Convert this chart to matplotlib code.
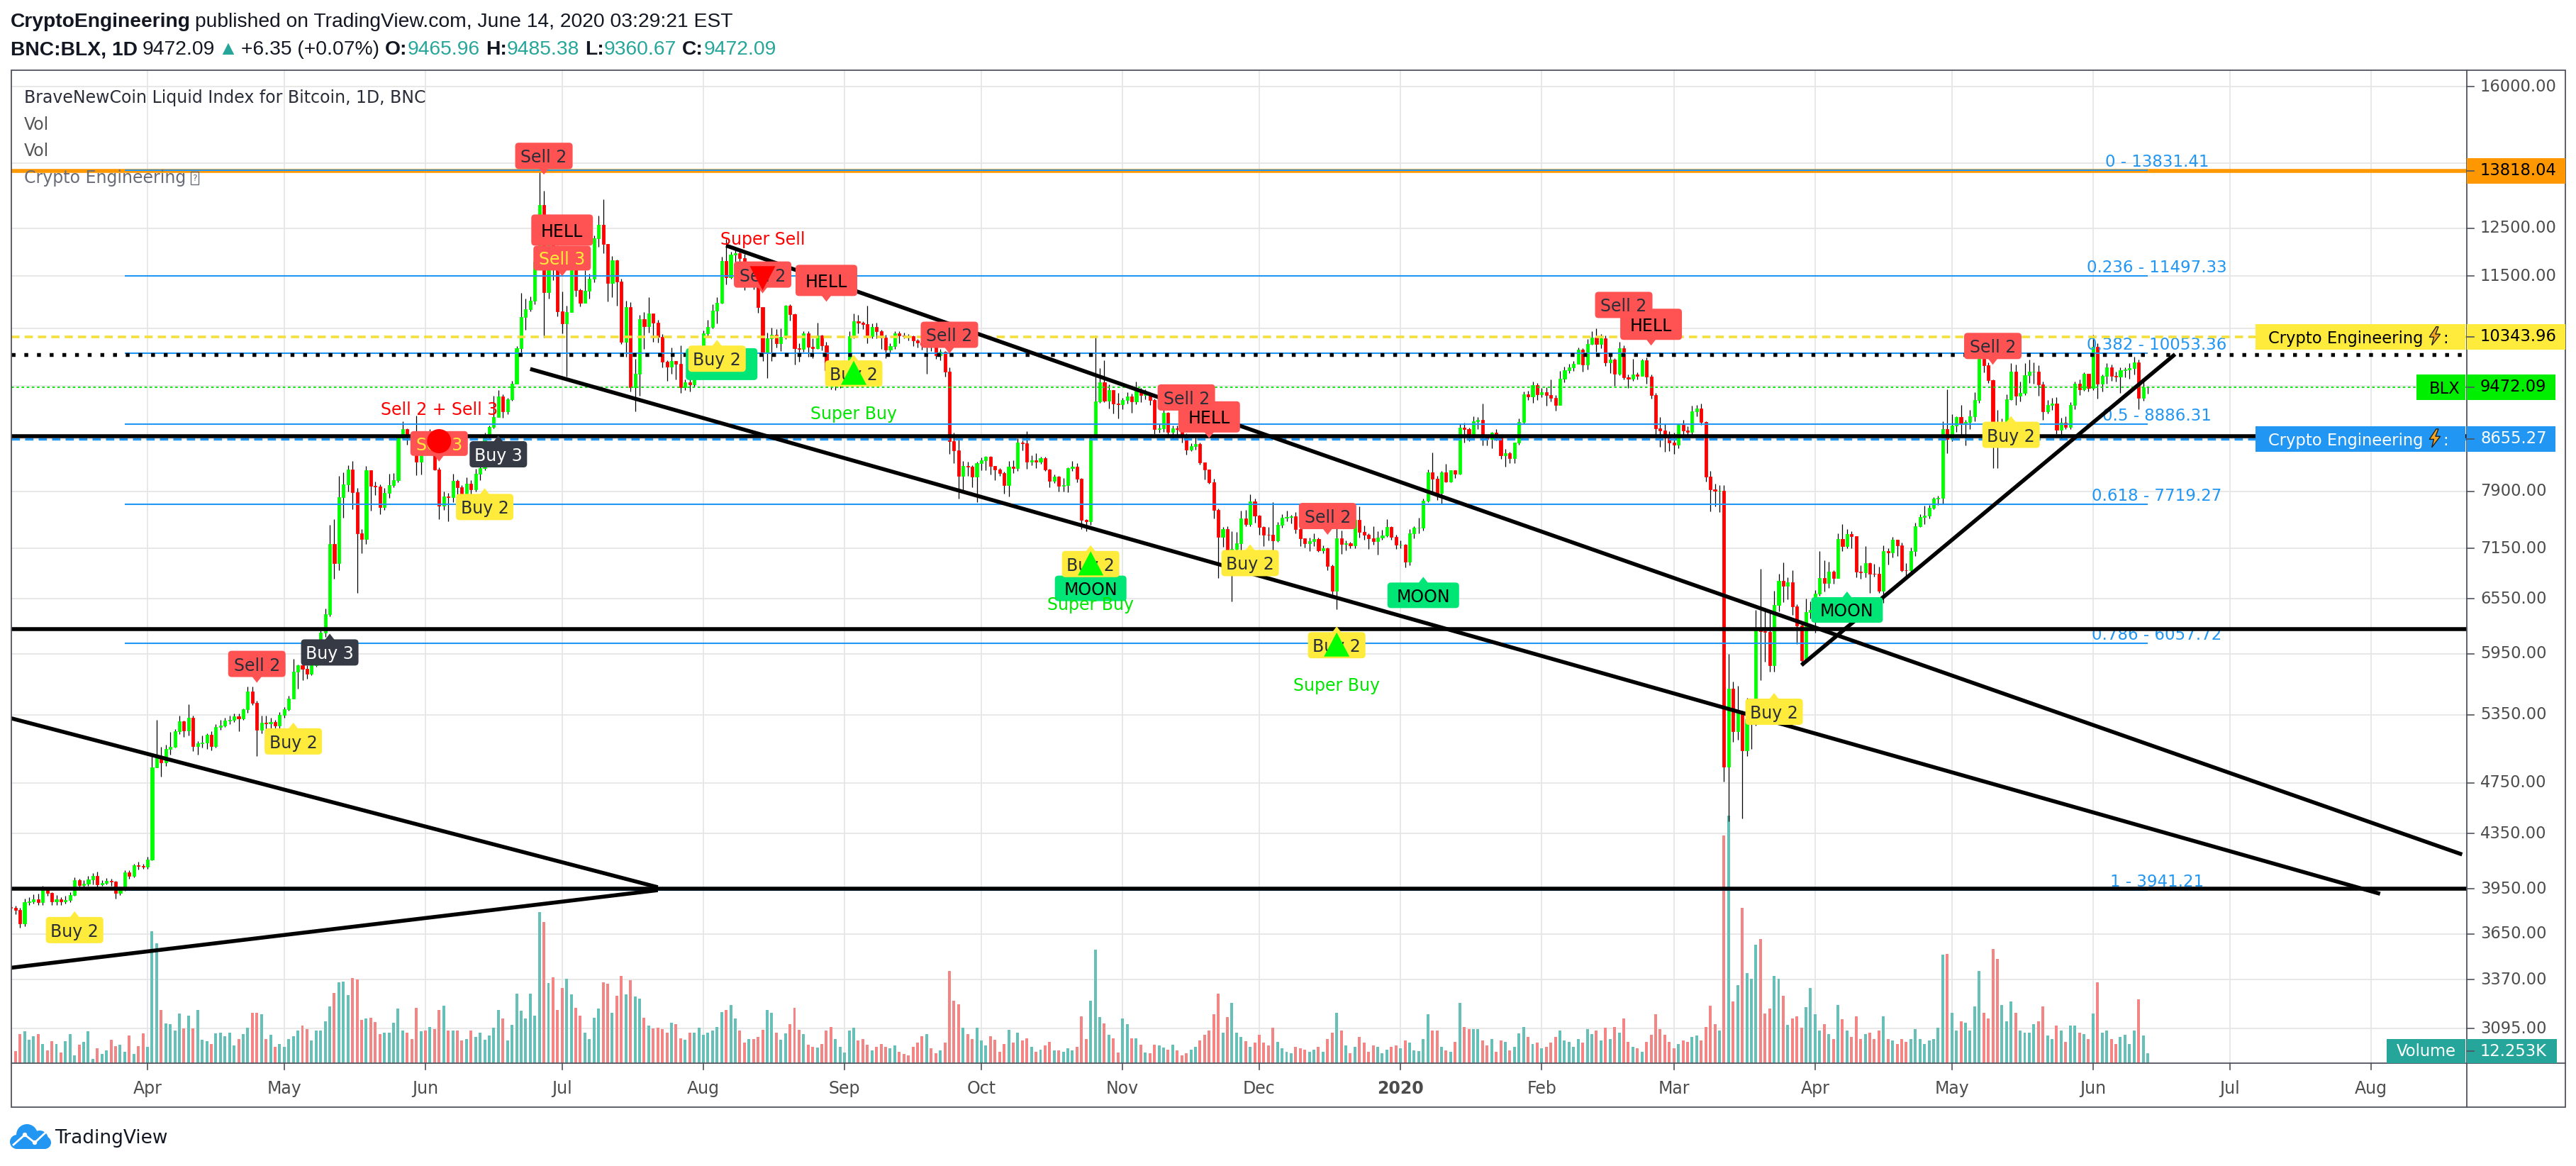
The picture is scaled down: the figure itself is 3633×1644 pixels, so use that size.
import datetime as dt

import numpy as np
import matplotlib
matplotlib.use("Agg")
import matplotlib.pyplot as plt
import matplotlib.dates as mdates
from matplotlib.patches import FancyBboxPatch, Rectangle, Circle, Polygon
from matplotlib.lines import Line2D
from matplotlib.transforms import IdentityTransform, offset_copy


# daily BNC:BLX bars, 2019-03-02 .. 2020-06-13 (open = previous close)
FIRST_DAY = dt.date(2019, 3, 2)
FIRST_OPEN = 3823.0

closes = [
    # 2019-03
    3819, 3807, 3716, 3857, 3862, 3876, 3856, 3945, 3921, 3865, 3877, 3863, 3875, 3904, 4011,
    3977, 3986, 4012, 4040, 3981, 3988, 4004, 3997, 3919, 3947, 4063, 4039, 4113, 4111, 4105,
    # 2019-04
    4158, 4880, 4974, 4922, 5037, 5060, 5199, 5289, 5204, 5325, 5064, 5089, 5096, 5167, 5067,
    5235, 5251, 5298, 5303, 5337, 5314, 5399, 5573, 5465, 5211, 5279, 5268, 5285, 5247, 5351,
    # 2019-05
    5402, 5505, 5768, 5831, 5795, 5746, 5830, 5982, 6175, 6378, 7204, 6972, 7814, 7995, 8205,
    7885, 7343, 7271, 8197, 7978, 7963, 7680, 7881, 7987, 8052, 8673, 8805, 8719, 8659, 8320, 8574,
    # 2019-06
    8564, 8742, 8208, 7707, 7824, 7822, 8043, 7954, 7688, 8000, 7927, 8145, 8230, 8693, 8838,
    8994, 9320, 9081, 9273, 9527, 10144, 10701, 10855, 11011, 11790, 13016, 11182, 12407, 11959, 10817,
    # 2019-07
    10583, 10801, 11961, 11215, 10978, 11208, 11450, 12285, 12573, 12156, 11358, 11815, 11392, 10256, 10895,
    9477, 9693, 10666, 10530, 10767, 10599, 10343, 9900, 9811, 9911, 9870, 9477, 9552, 9519, 9607, 10085,
    # 2019-08
    10399, 10519, 10821, 10970, 11805, 11478, 11941, 11966, 11862, 11354, 11523, 11382, 10895, 10051, 10311,
    10374, 10231, 10345, 10916, 10763, 10138, 10131, 10407, 10160, 10139, 10370, 10185, 9754, 9510, 9599, 9630,
    # 2019-09
    9757, 10347, 10623, 10594, 10575, 10353, 10517, 10441, 10334, 10115, 10178, 10410, 10360, 10358, 10347,
    10276, 10241, 10199, 10266, 10181, 10019, 10070, 9729, 8620, 8486, 8118, 8251, 8245, 8104, 8293,
    # 2019-10
    8343, 8393, 8260, 8205, 8151, 7988, 8245, 8228, 8595, 8586, 8321, 8336, 8321, 8374, 8205,
    8047, 8103, 7973, 7988, 8222, 8243, 8078, 7514, 7493, 8661, 9244, 9551, 9256, 9427, 9205, 9199,
    # 2019-11
    9261, 9324, 9235, 9412, 9342, 9360, 9267, 8804, 8813, 9055, 8757, 8815, 8808, 8708, 8491,
    8550, 8577, 8309, 8206, 8027, 7642, 7296, 7397, 7047, 7146, 7218, 7531, 7463, 7761, 7569,
    # 2019-12
    7424, 7321, 7320, 7253, 7448, 7547, 7556, 7564, 7400, 7278, 7217, 7243, 7269, 7124, 7152,
    6932, 6640, 7276, 7202, 7219, 7191, 7511, 7355, 7322, 7275, 7238, 7290, 7317, 7422, 7293, 7193,
    # 2020-01
    7200, 6985, 7345, 7410, 7411, 7769, 8163, 8079, 7879, 8166, 8037, 8192, 8145, 8828, 8808,
    8723, 8929, 8942, 8707, 8658, 8745, 8680, 8406, 8445, 8368, 8597, 8910, 9358, 9316, 9509, 9351,
    # 2020-02
    9393, 9345, 9294, 9181, 9614, 9759, 9805, 9866, 10117, 9856, 10208, 10327, 10215, 10313, 9889,
    9934, 9691, 10142, 9634, 9608, 9686, 9663, 9925, 9651, 9342, 8820, 8784, 8672, 8600,
    # 2020-03
    8563, 8869, 8787, 8756, 9078, 9122, 8909, 8108, 7923, 7909, 7911, 4885, 5600, 5200, 5370,
    5030, 5310, 5390, 6200, 6190, 6180, 5830, 6480, 6760, 6700, 6740, 6460, 6250, 5880, 6400, 6420,
    # 2020-04
    6606, 6793, 6733, 6867, 6791, 7271, 7176, 7334, 7302, 6865, 6859, 6971, 6845, 6842, 6642,
    7116, 7096, 7257, 7189, 6881, 6880, 7117, 7429, 7550, 7569, 7679, 7795, 7807, 8801, 8658,
    # 2020-05
    8864, 8988, 8897, 8912, 9003, 9268, 9951, 9842, 9593, 8756, 8601, 8804, 9269, 9733, 9328,
    9377, 9670, 9727, 9729, 9523, 9081, 9182, 9209, 8790, 8906, 8835, 9181, 9525, 9439, 9700, 9461,
    # 2020-06
    10167, 9529, 9656, 9800, 9665, 9653, 9758, 9771, 9795, 9890, 9300, 9465.96, 9472.09,
]

highs = [
    3840, 3835, 3820, 3880, 3890, 3910, 3915, 3970, 3955, 3925, 3905, 3890, 3900, 3925, 4030,
    4020, 4010, 4040, 4060, 4070, 4010, 4025, 4020, 4005, 3960, 4080, 4080, 4125, 4140, 4125,
    4175, 4980, 5300, 5060, 5080, 5190, 5220, 5340, 5295, 5450, 5340, 5110, 5160, 5180, 5200,
    5260, 5300, 5320, 5345, 5360, 5360, 5410, 5620, 5620, 5480, 5340, 5340, 5320, 5300, 5375,
    5420, 5530, 5900, 5840, 5850, 5830, 5960, 6010, 6200, 6440, 7450, 7520, 8110, 8160, 8270,
    8330, 7950, 7400, 8260, 8100, 8030, 7990, 7950, 8140, 8150, 8700, 8930, 8815, 8740, 9010, 8580,
    8620, 8810, 8760, 8240, 7900, 7880, 8140, 8060, 7980, 8090, 8050, 8215, 8300, 8750, 8860,
    9330, 9430, 9350, 9300, 9580, 10180, 11160, 11060, 11090, 11800, 13818, 13340, 12450, 12380, 12130,
    11190, 10920, 11970, 12000, 11250, 11620, 11540, 12340, 12780, 13150, 12100, 11900, 11840, 11450, 11020,
    10980, 9950, 10740, 10800, 11080, 10770, 10650, 10390, 9930, 10150, 9920, 10190, 9600, 9700, 9730, 10110,
    10450, 10650, 10940, 11080, 11890, 12270, 11990, 12070, 12030, 11950, 11540, 11530, 11440, 10890, 10420,
    10510, 10480, 10490, 10930, 10950, 10770, 10230, 10440, 10440, 10320, 10600, 10380, 10250, 9690, 9650, 9690,
    9810, 10440, 10770, 10740, 10630, 10920, 10580, 10600, 10470, 10380, 10230, 10440, 10440, 10420, 10390,
    10360, 10300, 10290, 10320, 10290, 10180, 10120, 10090, 9800, 8750, 8650, 8330, 8320, 8270, 8320,
    8380, 8400, 8400, 8240, 8230, 8170, 8330, 8340, 8660, 8630, 8770, 8410, 8440, 8390, 8390,
    8220, 8130, 8110, 8080, 8240, 8330, 8300, 8080, 7520, 8710, 10370, 9790, 9930, 9520, 9380, 9380,
    9300, 9390, 9370, 9560, 9460, 9440, 9370, 9290, 8880, 9120, 9070, 8860, 8860, 8810, 8740,
    8590, 8670, 8600, 8310, 8210, 8070, 7670, 7420, 7430, 7370, 7360, 7640, 7650, 7860, 7800,
    7580, 7430, 7420, 7750, 7490, 7590, 7640, 7580, 7620, 7430, 7280, 7290, 7340, 7290, 7190,
    7160, 6950, 7410, 7380, 7250, 7230, 7520, 7690, 7440, 7340, 7430, 7370, 7390, 7520, 7430, 7320,
    7250, 7210, 7400, 7430, 7540, 7800, 8210, 8450, 8110, 8180, 8290, 8200, 8190, 8880, 8900,
    8830, 9000, 8990, 9200, 8720, 8760, 8800, 8680, 8510, 8460, 8600, 8970, 9400, 9410, 9560, 9540,
    9460, 9470, 9600, 9340, 9750, 9820, 9870, 9920, 10150, 10140, 10300, 10440, 10500, 10390, 10370,
    10050, 9960, 10250, 10190, 9680, 9950, 9720, 9950, 9980, 9680, 9380, 8990, 8880, 8770,
    8750, 8890, 8950, 8850, 9170, 9180, 9200, 8920, 8180, 8000, 7980, 7980, 5950, 5670, 5630,
    5390, 5510, 5440, 6420, 6900, 6450, 6420, 6640, 6840, 6980, 6800, 6880, 6490, 6270, 6550, 6520,
    6650, 7120, 7000, 6990, 6880, 7340, 7460, 7400, 7370, 7300, 6940, 7180, 6980, 6960, 6930,
    7190, 7150, 7300, 7260, 7220, 6970, 7160, 7480, 7590, 7700, 7710, 7820, 7840, 8920, 9440,
    9040, 9000, 9180, 8950, 9100, 9390, 9990, 10010, 9890, 9600, 9100, 8970, 9360, 9880, 9850,
    9570, 9880, 9940, 9890, 9840, 9560, 9260, 9300, 9310, 8980, 9000, 9230, 9570, 9600, 9720, 9690,
    10380, 10230, 9690, 9880, 9850, 9730, 9800, 9800, 9880, 9990, 9940, 9560, 9485.38,
]

lows = [
    3795, 3780, 3690, 3700, 3840, 3850, 3840, 3840, 3900, 3840, 3840, 3840, 3850, 3860, 3900,
    3960, 3950, 3970, 3980, 3945, 3970, 3980, 3970, 3880, 3905, 3935, 4020, 4030, 4085, 4090,
    4090, 4150, 4900, 4800, 4890, 4990, 5050, 5170, 5150, 5160, 5020, 4990, 5050, 5040, 5030,
    5050, 5210, 5240, 5260, 5280, 5200, 5300, 5370, 5440, 4980, 5180, 5220, 5210, 5200, 5200,
    5320, 5390, 5500, 5600, 5680, 5700, 5730, 5820, 5960, 6130, 6350, 6780, 6880, 7540, 7900,
    7660, 6620, 7090, 7210, 7640, 7850, 7590, 7650, 7810, 7960, 8020, 8650, 8570, 8490, 8120, 8130,
    8480, 8540, 8200, 7520, 7650, 7500, 7750, 7850, 7600, 7620, 7780, 7900, 8050, 8200, 8640,
    8820, 9000, 8980, 9040, 9250, 9540, 10050, 10470, 10810, 10950, 11640, 10330, 11050, 11420, 10720,
    10400, 9650, 10800, 11100, 10900, 10990, 11060, 11380, 12100, 11970, 11000, 11080, 10920, 10210, 9990,
    9400, 9080, 9330, 10130, 10420, 10250, 10240, 9800, 9580, 9700, 9600, 9380, 9420, 9400, 9480, 9600,
    9960, 10350, 10500, 10580, 10960, 11330, 11450, 11550, 11670, 11220, 11330, 11240, 10790, 9910, 9630,
    9910, 10150, 10090, 10300, 10640, 9850, 9900, 10080, 9990, 9960, 10120, 10100, 9670, 9440, 9420, 9460,
    9590, 9740, 10320, 10410, 10480, 10230, 10320, 10320, 10130, 9960, 10050, 10120, 10220, 10320, 10280,
    10170, 10150, 10110, 9700, 10090, 9950, 9930, 9650, 8430, 8300, 7800, 7910, 8110, 7960, 7750,
    8200, 8200, 8130, 8050, 8110, 7870, 7830, 8150, 8180, 8480, 8220, 8270, 8230, 8290, 8180,
    7960, 8010, 7900, 7900, 7890, 8180, 8020, 7400, 7370, 7450, 8640, 9220, 9230, 9130, 9050, 8970,
    9110, 9210, 9060, 9190, 9230, 9270, 9180, 8730, 8750, 8760, 8710, 8640, 8720, 8600, 8420,
    8470, 8490, 8280, 8060, 8000, 7530, 6790, 7170, 7020, 6520, 6960, 6900, 7430, 7430, 7480,
    7320, 7180, 7250, 7110, 7230, 7410, 7500, 7470, 7340, 7180, 7160, 7120, 7180, 7110, 7090,
    6880, 6600, 6430, 7080, 7130, 7150, 7150, 7290, 7260, 7140, 7200, 7070, 7260, 7300, 7260, 7140,
    7150, 6920, 6940, 7280, 7340, 7380, 7750, 7870, 7780, 7730, 8020, 8020, 8080, 8130, 8600,
    8620, 8680, 8810, 8560, 8560, 8520, 8630, 8360, 8250, 8300, 8300, 8570, 8880, 9260, 9220, 9260,
    9310, 9170, 9240, 9090, 9180, 9550, 9710, 9740, 9880, 9730, 9770, 10200, 10080, 10140, 9830,
    9710, 9490, 9670, 9600, 9460, 9580, 9600, 9660, 9530, 9290, 8700, 8540, 8460, 8470,
    8430, 8520, 8680, 8690, 8700, 9000, 8870, 8030, 7630, 7690, 7620, 4760, 4440, 5100, 5120,
    4465, 4980, 5040, 5250, 5680, 5870, 5770, 5770, 6410, 6510, 6540, 6370, 6050, 5860, 5870, 6330,
    6170, 6580, 6630, 6670, 6720, 6790, 7120, 7150, 7150, 6800, 6780, 6800, 6620, 6810, 6620,
    6500, 6950, 7040, 7060, 6870, 6800, 6830, 7060, 7420, 7460, 7530, 7660, 7710, 7730, 8440,
    8620, 8760, 8720, 8560, 8800, 8930, 9220, 9720, 9540, 8230, 8230, 8600, 8790, 9260, 9180,
    9240, 9340, 9540, 9530, 9330, 8950, 9050, 9100, 8730, 8660, 8810, 8810, 9120, 9340, 9410, 9400,
    9420, 9290, 9400, 9530, 9580, 9570, 9380, 9640, 9610, 9690, 9120, 9250, 9360.67,
]

# volume in thousands
volumes = [
    17, 15, 36, 39, 29, 33, 36, 24, 16, 27, 24, 13, 27, 36, 10, 23, 26, 39, 5, 18, 11, 16, 29, 21, 23, 14, 34, 11, 21, 37,
    20, 163, 148, 66, 49, 48, 40, 61, 43, 59, 43, 66, 29, 27, 24, 37, 38, 33, 38, 22, 30, 36, 44, 62, 62, 60, 30, 35, 20, 24,
    20, 30, 33, 40, 46, 42, 28, 40, 40, 52, 70, 87, 100, 101, 84, 105, 103, 53, 55, 56, 51, 36, 38, 38, 50, 67, 40, 38, 30, 68, 39,
    40, 45, 42, 66, 71, 40, 40, 40, 28, 30, 40, 32, 38, 29, 34, 44, 66, 55, 28, 47, 86, 65, 55, 86, 59, 186, 174, 99, 106, 66,
    93, 104, 85, 68, 59, 38, 30, 56, 67, 100, 98, 62, 83, 108, 85, 102, 82, 80, 56, 46, 43, 44, 42, 38, 50, 48, 31, 29, 38, 38, 44,
    35, 38, 40, 45, 63, 66, 72, 55, 40, 25, 30, 30, 32, 41, 66, 62, 38, 29, 37, 48, 68, 41, 36, 23, 20, 19, 24, 40, 45, 30, 20,
    13, 40, 44, 28, 30, 23, 16, 20, 24, 20, 18, 22, 14, 11, 10, 20, 25, 33, 36, 18, 12, 16, 25, 114, 77, 73, 44, 36, 30, 44,
    28, 22, 33, 29, 14, 24, 41, 25, 38, 28, 31, 20, 14, 17, 22, 26, 16, 16, 14, 18, 16, 20, 58, 30, 77, 140, 57, 49, 35, 31, 13,
    55, 48, 31, 31, 23, 13, 12, 23, 22, 19, 17, 23, 16, 10, 12, 17, 20, 28, 35, 40, 60, 86, 38, 57, 74, 38, 32, 27, 20, 25,
    35, 25, 22, 44, 26, 18, 14, 12, 20, 18, 17, 14, 17, 20, 14, 30, 38, 62, 40, 22, 12, 20, 32, 25, 14, 22, 20, 12, 17, 20, 22,
    18, 28, 25, 16, 15, 30, 60, 40, 40, 20, 16, 14, 26, 74, 45, 42, 42, 42, 28, 22, 30, 14, 28, 26, 16, 20, 37, 45, 32, 24, 25,
    18, 20, 25, 32, 40, 28, 26, 20, 30, 25, 42, 36, 40, 28, 44, 30, 45, 38, 55, 26, 20, 18, 14, 26, 35, 60, 42, 35, 26,
    18, 24, 28, 26, 32, 34, 28, 45, 71, 48, 40, 281, 305, 76, 96, 192, 111, 104, 146, 153, 61, 67, 108, 104, 83, 47, 55, 58, 44, 69, 93,
    60, 40, 48, 36, 30, 72, 54, 40, 32, 58, 30, 36, 38, 30, 40, 58, 30, 28, 24, 30, 26, 30, 42, 30, 24, 28, 30, 44, 134, 135,
    62, 40, 52, 50, 40, 70, 114, 62, 55, 141, 129, 72, 52, 76, 62, 40, 38, 38, 48, 52, 70, 34, 30, 46, 40, 26, 46, 46, 38, 36, 30,
    61, 100, 38, 40, 30, 24, 32, 35, 24, 40, 79, 34, 12.253,
]

month_labels = ["Apr", "May", "Jun", "Jul", "Aug", "Sep", "Oct", "Nov", "Dec", "2020",
                "Feb", "Mar", "Apr", "May", "Jun", "Jul", "Aug"]
month_starts = [dt.date(2019, m, 1) for m in range(4, 13)] + [dt.date(2020, m, 1) for m in range(1, 9)]

# grid levels; only the ones not hidden behind the price-axis boxes get a label
grid_levels = [16000, 14000, 12500, 11500, 10500, 9500, 8650, 7900, 7150, 6550,
               5950, 5350, 4750, 4350, 3950, 3650, 3370, 3095]
tick_labels = [16000, 12500, 11500, 7900, 7150, 6550, 5950, 5350, 4750, 4350,
               3950, 3650, 3370, 3095]

fib_names = ["0", "0.236", "0.382", "0.5", "0.618", "0.786", "1"]
fib_levels = [13831.41, 11497.33, 10053.36, 8886.31, 7719.27, 6057.72, 3941.21]

black_levels = [8697, 6213, 3952]
dotted_level = 10030
orange_level = 13818.04
yellow_level = 10343.96
blue_level = 8655.27
last_price = 9472.09

# trend lines: (date, price) -> (date, price)
trend_lines = [
    (("2019-03-02", 5318), ("2019-07-22", 3960)),
    (("2019-03-02", 3441), ("2019-07-22", 3940)),
    (("2019-08-06", 12126), ("2020-08-21", 4193)),
    (("2019-06-24", 9778), ("2020-08-03", 3915)),
    (("2020-03-29", 5833), ("2020-06-19", 10032)),
]

# signal labels: date, price, text, style, pointer
tags = [
    ("2019-03-16", 3675, "Buy 2", "buy", "up"),
    ("2019-04-25", 5846, "Sell 2", "sell", "down"),
    ("2019-05-03", 5107, "Buy 2", "buy", "up"),
    ("2019-05-11", 5964, "Buy 3", "buy3", "up"),
    ("2019-06-04", 8586, "Sell 3", "sell3", "down"),
    ("2019-06-17", 8426, "Buy 3", "buy3", "up"),
    ("2019-06-14", 7686, "Buy 2", "buy", "up"),
    ("2019-06-27", 14180, "Sell 2", "sell", "down"),
    ("2019-07-01", 12458, "HELL", "hell", None),
    ("2019-07-01", 11864, "Sell 3", "sell3", "down"),
    ("2019-08-05", 9861, "", "greenpad", None),
    ("2019-08-04", 9955, "Buy 2", "buy", "up"),
    ("2019-08-14", 11528, "Sell 2", "sell", "down"),
    ("2019-08-28", 11411, "HELL", "hell", "down"),
    ("2019-09-03", 9701, "Buy 2", "buy", "up"),
    ("2019-09-24", 10379, "Sell 2", "sell", "down"),
    ("2019-10-25", 6669, "MOON", "moon", None),
    ("2019-10-25", 6958, "Buy 2", "buy", "up"),
    ("2019-11-20", 8994, "HELL", "hell", "down"),
    ("2019-11-15", 9304, "Sell 2", "sell", "down"),
    ("2019-11-29", 6970, "Buy 2", "buy", "up"),
    ("2019-12-16", 7566, "Sell 2", "sell", "down"),
    ("2019-12-18", 6040, "Buy 2", "buy", "up"),
    ("2020-01-06", 6589, "MOON", "moon", "up"),
    ("2020-02-25", 10570, "HELL", "hell", "down"),
    ("2020-02-19", 10933, "Sell 2", "sell", None),
    ("2020-03-23", 5378, "Buy 2", "buy", "up"),
    ("2020-04-08", 6423, "MOON", "moon", "up"),
    ("2020-05-10", 10178, "Sell 2", "sell", "down"),
    ("2020-05-14", 8717, "Buy 2", "buy", "up"),
]
big_up = [("2019-09-03", 9701), ("2019-10-25", 6958), ("2019-12-18", 6040)]
big_down = [("2019-08-14", 11469)]
red_dots = [("2019-06-04", 8621)]
free_texts = [
    ("2019-06-04", 9131, "Sell 2 + Sell 3", "#ff0000"),
    ("2019-08-14", 12294, "Super Sell", "#ff0000"),
    ("2019-09-03", 9064, "Super Buy", "#00e600"),
    ("2019-10-25", 6496, "Super Buy", "#00e600"),
    ("2019-12-18", 5646, "Super Buy", "#00e600"),
]

STYLES = {
    "sell": ("#ff5252", "#2a2e39", 81, 37),
    "sell3": ("#ff5252", "#ffeb3b", 81, 35),
    "hell": ("#ff5252", "#000000", 87, 44),
    "buy": ("#ffeb3b", "#2a2e39", 81, 37),
    "buy3": ("#363a45", "#ffffff", 81, 37),
    "moon": ("#00e676", "#000000", 101, 36),
    "greenpad": ("#00e676", "#000000", 101, 45),
}

GRID = "#e6e6e6"
FRAME = "#50535e"
AXTXT = "#4c4c4c"
TEAL = "#26a69a"
plt.rcParams["font.family"] = ["DejaVu Sans"]


def X(d):
    return mdates.date2num(dt.date.fromisoformat(d))


# ---- figure / panes ----------------------------------------------------
W, H = 3633, 1644
fig = plt.figure(figsize=(W / 100, H / 100), dpi=100)
fig.patch.set_facecolor("white")
PIX = IdentityTransform()

PL, PR, PT, PB = 15.5, 3478.5, 99.0, 1499.0
rect = [PL / W, 1 - PB / H, (PR - PL) / W, (PB - PT) / H]
ax_bg = fig.add_axes(rect)
ax_vol = fig.add_axes(rect)
ax = fig.add_axes(rect)

apr1 = mdates.date2num(dt.date(2019, 4, 1))
for a in (ax_bg, ax_vol, ax):
    a.set_xlim(apr1 - 29.96, apr1 + 508.95)
    a.set_axis_off()
for a in (ax_bg, ax):
    a.set_yscale("log")
    a.set_ylim(2913.8, 16463.7)
ax_vol.set_ylim(0, 1225)

for d in month_starts:
    ax_bg.axvline(mdates.date2num(d), color=GRID, lw=1.3)
for p in grid_levels:
    ax_bg.axhline(p, color=GRID, lw=1.3)

# ---- bars --------------------------------------------------------------
assert len(closes) == len(highs) == len(lows) == len(volumes)
n = len(closes)
xs = mdates.date2num(FIRST_DAY) + np.arange(n)
c = np.array(closes, float)
o = np.r_[FIRST_OPEN, c[:-1]]
hi = np.maximum(np.array(highs, float), np.maximum(o, c))
lo = np.minimum(np.array(lows, float), np.minimum(o, c))
up = c >= o

ax_vol.bar(xs, volumes, width=0.62, linewidth=0,
           color=["#67c0b8" if u else "#f38684" for u in up])

ax.vlines(xs, lo, hi, color="black", lw=0.9, zorder=2)
body = ["#00ff00" if u else "#ff0000" for u in up]
ax.bar(xs, np.abs(c - o), bottom=np.minimum(o, c), width=0.64,
       color=body, edgecolor=body, linewidth=0.6, zorder=3)

# ---- drawings ----------------------------------------------------------
ax.axhline(orange_level, color="#ff9800", lw=4, zorder=4)
ax.hlines(fib_levels, X("2019-03-27"), X("2020-06-13"), color="#2196f3", lw=1.5, zorder=5)
fib_tr = offset_copy(ax.transData, fig=fig, x=0, y=5, units="dots")
for name, lev in zip(fib_names, fib_levels):
    ax.text(X("2020-06-15"), lev, f"{name} - {lev:.2f}", transform=fib_tr, ha="center",
            va="baseline", color="#2196f3", fontsize=16.5, zorder=5, clip_on=False)

ax.axhline(yellow_level, color="#f5df3c", lw=2.6, ls=(0, (3.2, 2.0)), zorder=5.5)
ax.axhline(blue_level, color="#2196f3", lw=2.4, ls=(0, (3.5, 2.2)), zorder=5.5)
ax.axhline(last_price, color="#00e600", lw=1.3, ls=(0, (2, 2)), zorder=5.5)
for lev in black_levels:
    ax.axhline(lev, color="black", lw=4, zorder=6)
ax.axhline(dotted_level, color="black", lw=3.9, ls=(0, (1, 2.3)),
           dash_capstyle="butt", zorder=6)
for (d1, p1), (d2, p2) in trend_lines:
    ax.plot([X(d1), X(d2)], [p1, p2], color="black", lw=4,
            solid_capstyle="butt", zorder=7)


def to_px(d, p):
    return ax.transData.transform((X(d), p))


z = 20
for d, p, text, style, pointer in tags:
    face, fg, w, h = STYLES[style]
    cx, cy = to_px(d, p)
    fig.add_artist(FancyBboxPatch((cx - w / 2, cy - h / 2), w, h,
                                  boxstyle="round,pad=0,rounding_size=5",
                                  fc=face, ec="none", transform=PIX, zorder=z))
    if pointer == "down":
        tri = [(cx - 7, cy - h / 2 + 1), (cx + 7, cy - h / 2 + 1), (cx, cy - h / 2 - 8)]
    elif pointer == "up":
        tri = [(cx - 7, cy + h / 2 - 1), (cx + 7, cy + h / 2 - 1), (cx, cy + h / 2 + 8)]
    else:
        tri = None
    if tri:
        fig.add_artist(Polygon(tri, closed=True, fc=face, ec="none", transform=PIX, zorder=z))
    if text:
        fig.text(cx, cy, text, transform=PIX, ha="center", va="center_baseline",
                 color=fg, fontsize=17, zorder=z + 0.5)
    z += 1

for d, p in big_up:
    cx, cy = to_px(d, p)
    fig.add_artist(Polygon([(cx - 18, cy - 16), (cx + 18, cy - 16), (cx, cy + 18)],
                           closed=True, fc="#00ff00", ec="none", transform=PIX, zorder=60))
for d, p in big_down:
    cx, cy = to_px(d, p)
    fig.add_artist(Polygon([(cx - 18, cy + 16), (cx + 18, cy + 16), (cx, cy - 18)],
                           closed=True, fc="#ff0000", ec="none", transform=PIX, zorder=60))
for d, p in red_dots:
    cx, cy = to_px(d, p)
    fig.add_artist(Circle((cx, cy), 17, fc="#ff0000", ec="none", transform=PIX, zorder=60))
for d, p, text, col in free_texts:
    cx, cy = to_px(d, p)
    fig.text(cx, cy, text, transform=PIX, ha="center", va="center_baseline",
             color=col, fontsize=17, zorder=61)

# ---- frame -------------------------------------------------------------
fig.add_artist(Rectangle((PL, H - 1561), 3618 - PL, 1561 - PT, fill=False,
                         ec=FRAME, lw=1.3, transform=PIX, zorder=70))
fig.add_artist(Line2D([PR, PR], [H - PT, H - 1561], color=FRAME, lw=1.3, transform=PIX, zorder=70))
fig.add_artist(Line2D([PL, 3618], [H - PB, H - PB], color=FRAME, lw=1.3, transform=PIX, zorder=70))

# price axis
for p in grid_levels:
    y = ax.transData.transform((0, p))[1]
    fig.add_artist(Line2D([PR, PR + 10], [y, y], color=FRAME, lw=1.2, transform=PIX, zorder=72))
for p in tick_labels:
    y = ax.transData.transform((0, p))[1]
    fig.text(3498, y, f"{p:.2f}", transform=PIX, ha="left", va="center",
             color=AXTXT, fontsize=16.3, zorder=71)

r = fig.canvas.get_renderer()


def bolt(x, y, w=17, h=26, z=80):
    pts = [(0.62, 0.0), (0.05, 0.56), (0.42, 0.56), (0.25, 1.0), (0.95, 0.40), (0.56, 0.40), (0.80, 0.0)]
    fig.add_artist(Polygon([(x + px * w, y + h / 2 - py * h) for px, py in pts], closed=True,
                           fc="#f5a623", ec="#222222", lw=1.0, transform=PIX, zorder=z))


def runs(x, y, parts, fs, family, z=80, va="baseline"):
    for s, col, weight, gap in parts:
        if s == "BOLT":
            bolt(x, y + 1, z=z)
            x += 17 + gap
            continue
        t = fig.text(x, y, s, transform=PIX, ha="left", va=va, color=col,
                     fontsize=fs, fontweight=weight, family=family, zorder=z)
        x = t.get_window_extent(r).x1 + gap
    return x


def axis_box(price, value_txt, face, fg, x_right, name=None, name_left=None):
    y = ax.transData.transform((0, price))[1]
    fig.add_artist(Rectangle((PR, y - 18), x_right - PR, 36, fc=face, ec="none",
                             transform=PIX, zorder=75))
    fig.text(3498, y, value_txt, transform=PIX, ha="left", va="center", color=fg,
             fontsize=16.3, zorder=76)
    fig.add_artist(Line2D([PR, PR + 10], [y, y], color=FRAME, lw=1.2, transform=PIX, zorder=77))
    if name is not None:
        fig.add_artist(Rectangle((name_left, y - 18), PR - 2 - name_left, 36, fc=face,
                                 ec="none", transform=PIX, zorder=75))
        runs(name_left + 18, y, name, 16.3, ["DejaVu Sans"], z=76, va="center_baseline")


axis_box(orange_level, "13818.04", "#ff9800", "black", 3618)
axis_box(yellow_level, "10343.96", "#ffeb3b", "black", 3618,
         [("Crypto Engineering", "black", "normal", 8), ("BOLT", None, None, 3),
          (":", "black", "normal", 0)], 3181)
axis_box(last_price, "9472.09", "#00ee00", "black", 3604,
         [("BLX", "black", "normal", 0)], 3408)
axis_box(blue_level, "8655.27", "#2196f3", "white", 3604,
         [("Crypto Engineering", "white", "normal", 8), ("BOLT", None, None, 3),
          (":", "white", "normal", 0)], 3181)

# volume label
fig.add_artist(Rectangle((3366, H - 1499), PR - 2 - 3366, 34, fc=TEAL, ec="none", transform=PIX, zorder=75))
fig.add_artist(Rectangle((PR, H - 1499), 3606 - PR, 34, fc=TEAL, ec="none", transform=PIX, zorder=75))
fig.text((3366 + PR) / 2, H - 1482, "Volume", transform=PIX, ha="center", va="center",
         color="white", fontsize=16.3, zorder=76)
fig.text(3498, H - 1482, "12.253K", transform=PIX, ha="left", va="center",
         color="white", fontsize=16.3, zorder=76)
fig.add_artist(Line2D([PR, PR + 10], [H - 1482, H - 1482], color=FRAME, lw=1.2, transform=PIX, zorder=77))

# time axis
for d, lab in zip(month_starts, month_labels):
    x = ax.transData.transform((mdates.date2num(d), 5000))[0]
    fig.text(x, H - 1535, lab, transform=PIX, ha="center", va="center", color=AXTXT,
             fontsize=17, fontweight="bold" if lab == "2020" else "normal", zorder=71)
    fig.add_artist(Line2D([x, x], [H - PB, H - PB - 9], color=FRAME, lw=1.2, transform=PIX, zorder=72))

# ---- texts -------------------------------------------------------------
HEAD = ["Liberation Sans", "DejaVu Sans"]
DARK = "#131722"
runs(15, H - 38, [("CryptoEngineering", DARK, "bold", 6),
                  ("published on TradingView.com, June 14, 2020 03:29:21 EST", DARK, "normal", 0)],
     20.3, HEAD)
runs(15, H - 77, [("BNC:BLX, 1D", DARK, "bold", 7), ("9472.09", DARK, "normal", 4),
                  ("\u25b2", TEAL, "normal", 5), ("+6.35 (+0.07%)", DARK, "normal", 8),
                  ("O:", DARK, "bold", 0), ("9465.96", TEAL, "normal", 8),
                  ("H:", DARK, "bold", 0), ("9485.38", TEAL, "normal", 8),
                  ("L:", DARK, "bold", 0), ("9360.67", TEAL, "normal", 8),
                  ("C:", DARK, "bold", 0), ("9472.09", TEAL, "normal", 0)],
     20.3, HEAD)

fig.text(34, H - 145, "BraveNewCoin Liquid Index for Bitcoin, 1D, BNC", transform=PIX,
         ha="left", va="baseline", color="#2a2e39", fontsize=17, zorder=80)
fig.text(34, H - 183, "Vol", transform=PIX, ha="left", va="baseline", color="#555555",
         fontsize=17, zorder=80)
fig.text(34, H - 220, "Vol", transform=PIX, ha="left", va="baseline", color="#555555",
         fontsize=17, zorder=80)
t = fig.text(34, H - 258, "Crypto Engineering", transform=PIX, ha="left", va="baseline",
             color="#6a6d78", fontsize=17, zorder=80)
bx = t.get_window_extent(r).x1 + 7
fig.add_artist(Rectangle((bx, H - 260), 11, 18, fill=False, ec="#6a6d78", lw=1,
                         transform=PIX, zorder=80))
fig.text(bx + 5.5, H - 251, "?", transform=PIX, ha="center", va="center", color="#6a6d78",
         fontsize=9, zorder=81)

# TradingView logo
LOGO = "#2196f3"
for (lx, ly, rad) in [(24, 1610, 10), (38, 1600, 15), (56, 1606, 12), (63, 1611, 9)]:
    fig.add_artist(Circle((lx, H - ly), rad, fc=LOGO, ec="none", transform=PIX, zorder=80))
fig.add_artist(Rectangle((24, H - 1620), 39, 14, fc=LOGO, ec="none", transform=PIX, zorder=80))
fig.add_artist(Line2D([19, 35, 49, 64], [H - 1614, H - 1600, H - 1611, H - 1597],
                      color="white", lw=2.0, transform=PIX, zorder=81))
for (lx, ly) in [(35, 1600), (49, 1611)]:
    fig.add_artist(Circle((lx, H - ly), 3.2, fc="white", ec="none", transform=PIX, zorder=82))
fig.text(77, H - 1612, "TradingView", transform=PIX, ha="left", va="baseline",
         color=DARK, fontsize=19, zorder=80)

fig.savefig("out.png", dpi=100)
